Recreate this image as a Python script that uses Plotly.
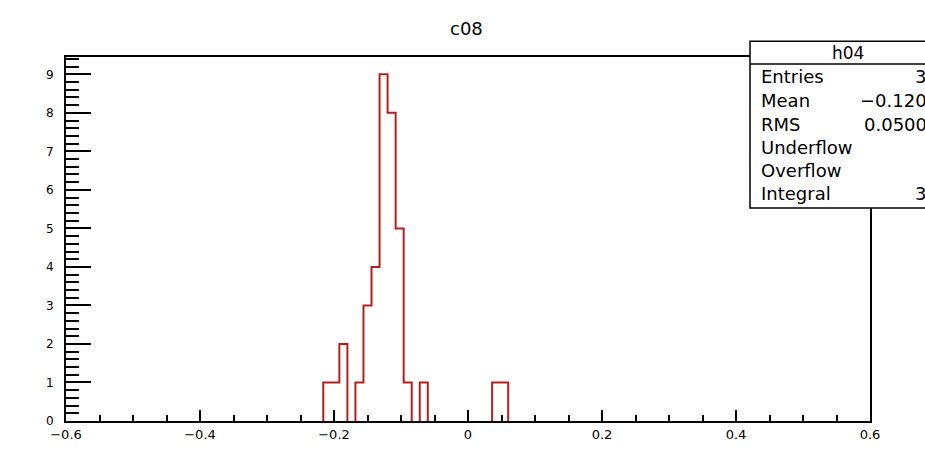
import numpy as np
import plotly.graph_objects as go

# Histogram h04: 100 bins on [-0.6, 0.6]
x_low, x_high, n_bins = -0.6, 0.6, 100
filled_bins = [32, 33, 34, 36, 37, 38, 39, 40, 41, 42, 44, 53, 54]
filled_counts = [1, 1, 2, 1, 3, 4, 9, 8, 5, 1, 1, 1, 1]

x_tick_vals = [-0.6, -0.4, -0.2, 0, 0.2, 0.4, 0.6]
x_tick_text = ["\u22120.6", "\u22120.4", "\u22120.2", "0", "0.2", "0.4", "0.6"]
y_tick_vals = [0, 1, 2, 3, 4, 5, 6, 7, 8, 9]

title_text = "c08"
stats_title = "h04"
stats_labels = ["Entries", "Mean", "RMS", "Underflow", "Overflow", "Integral"]
stats_values = ["38", "\u22120.1200", "0.05000", "0", "0", "38"]

counts = np.zeros(n_bins)
for b, c in zip(filled_bins, filled_counts):
    counts[b] = c
edges = np.linspace(x_low, x_high, n_bins + 1)
y_max = counts.max() * 1.05

# step outline of the histogram, one segment per run of non-empty bins
step_x, step_y = [], []
i = 0
while i < n_bins:
    if counts[i] > 0:
        j = i
        step_x.append(edges[i])
        step_y.append(0)
        while j < n_bins and counts[j] > 0:
            step_x += [edges[j], edges[j + 1]]
            step_y += [counts[j], counts[j]]
            j += 1
        step_x += [edges[j], None]
        step_y += [0, None]
        i = j
    else:
        i += 1

W, H = 925, 454
L, R, T, B = 66, 870, 57, 426


def px(x):
    return (x - L) / (R - L)


def py(y):
    return (B - y) / (B - T)


fig = go.Figure()
fig.add_trace(go.Scatter(
    x=step_x, y=step_y, mode="lines",
    line=dict(color="#b81e1e", width=2), hoverinfo="skip", showlegend=False,
    connectgaps=False,
))

font_family = "DejaVu Sans, Liberation Sans, Arial, sans-serif"

fig.update_layout(
    width=W, height=H,
    margin=dict(l=L, r=W - R, t=T, b=H - B, pad=0),
    paper_bgcolor="white", plot_bgcolor="white",
    showlegend=False,
    font=dict(family=font_family, color="black"),
    xaxis=dict(
        range=[x_low, x_high], showgrid=False, zeroline=False,
        showline=True, linecolor="black", linewidth=2, mirror=True,
        layer="above traces",
        ticks="inside", ticklen=11, tickwidth=1.5, tickcolor="black",
        tickmode="array", tickvals=x_tick_vals, ticktext=x_tick_text,
        tickfont=dict(size=13),
        minor=dict(ticks="inside", ticklen=6, tickwidth=1.5, tickcolor="black",
                   tickmode="linear", tick0=x_low, dtick=0.05, showgrid=False),
    ),
    yaxis=dict(
        range=[0, y_max], showgrid=False, zeroline=False,
        showline=True, linecolor="black", linewidth=2, mirror=True,
        layer="above traces",
        ticks="inside", ticklen=25, tickwidth=1.5, tickcolor="black",
        tickmode="array", tickvals=y_tick_vals,
        tickfont=dict(size=12),
        ticklabelstandoff=8,
        minor=dict(ticks="inside", ticklen=13, tickwidth=1.5, tickcolor="black",
                   tickmode="linear", tick0=0, dtick=0.2, showgrid=False),
    ),
)

# canvas title
fig.add_annotation(
    text=title_text, xref="paper", yref="paper", x=px(466), y=py(28),
    xanchor="center", yanchor="middle", showarrow=False,
    font=dict(size=18, family=font_family),
)

# statistics box
box_l, box_r, box_t, box_b, box_div = 750, 946, 41, 210, 64
fig.add_shape(type="rect", xref="paper", yref="paper",
              x0=px(box_l), x1=px(box_r), y0=py(box_b), y1=py(box_t),
              fillcolor="white", line=dict(color="black", width=1.5), layer="above")
fig.add_shape(type="line", xref="paper", yref="paper",
              x0=px(box_l), x1=px(box_r), y0=py(box_div), y1=py(box_div),
              line=dict(color="black", width=1.5), layer="above")
fig.add_annotation(
    text=stats_title, xref="paper", yref="paper", x=px((box_l + box_r) / 2), y=py(53),
    xanchor="center", yanchor="middle", showarrow=False,
    font=dict(size=17, family=font_family),
)
row_y = [77, 101, 125, 149, 172, 195]
for lab, val, yy in zip(stats_labels, stats_values, row_y):
    fig.add_annotation(text=lab, xref="paper", yref="paper", x=px(759), y=py(yy),
                       xanchor="left", yanchor="middle", showarrow=False,
                       font=dict(size=18, family=font_family))
    fig.add_annotation(text=val, xref="paper", yref="paper", x=px(940), y=py(yy),
                       xanchor="right", yanchor="middle", showarrow=False,
                       font=dict(size=18, family=font_family))

fig.write_html("out.html")
